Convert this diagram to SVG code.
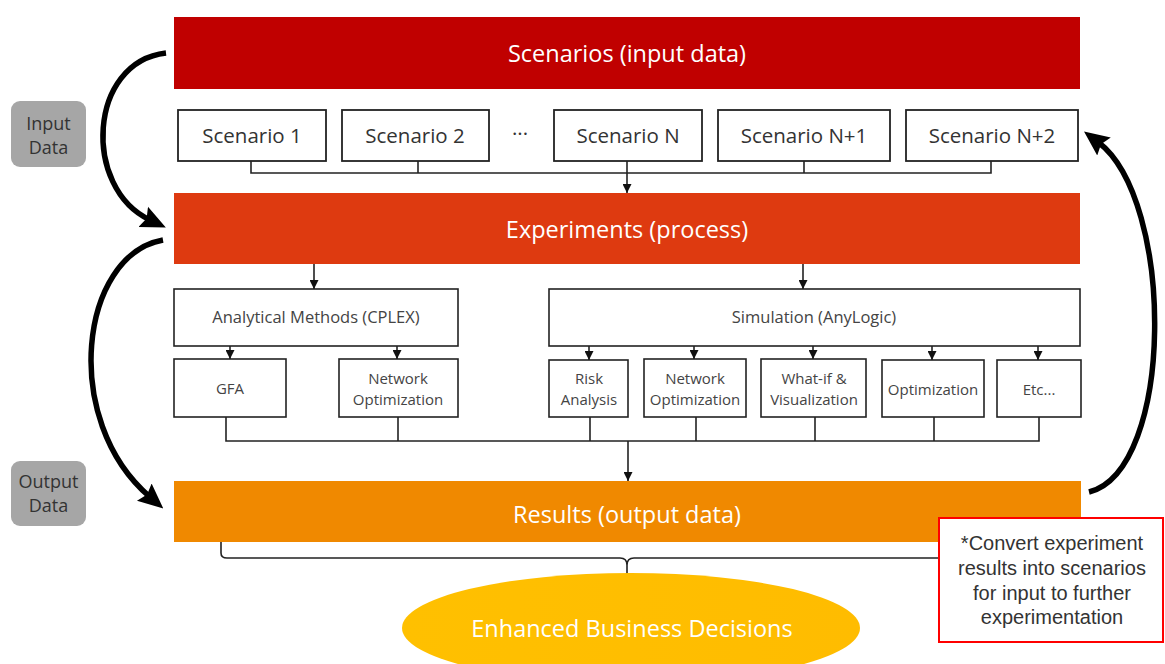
<svg xmlns="http://www.w3.org/2000/svg" width="1165" height="664" viewBox="0 0 1165 664">
<style>
.bar-t{font-family:"Open Sans","Noto Sans",sans-serif;font-size:23.5px;fill:#fff;text-anchor:middle}
.sc{fill:#fff;stroke:#222;stroke-width:1.8}
.sc-t{font-family:"Open Sans","Noto Sans",sans-serif;font-size:20.5px;fill:#333;text-anchor:middle}
.bx{fill:#fff;stroke:#222;stroke-width:1.6}
.bx-t{font-family:"Open Sans","Noto Sans",sans-serif;font-size:16.5px;fill:#444;text-anchor:middle}
.sb-t{font-family:"Open Sans","Noto Sans",sans-serif;font-size:15px;fill:#444;text-anchor:middle}
.lbl{fill:#A6A6A6}
.lbl-t{font-family:"Open Sans","Noto Sans",sans-serif;font-size:18px;fill:#333;text-anchor:middle}
.ln{fill:none;stroke:#222;stroke-width:1.6}
.big{fill:none;stroke:#000;stroke-width:5.5}
.note-t{font-family:"Liberation Sans",Arial,sans-serif;font-size:20px;fill:#333;text-anchor:middle}
</style>
<defs>
<marker id="sa" markerUnits="userSpaceOnUse" markerWidth="9" markerHeight="9" viewBox="0 0 10 10" refX="10" refY="5" orient="auto">
<path d="M0,0 L10,5 L0,10 z" fill="#111"/>
</marker>
<marker id="ba" markerUnits="userSpaceOnUse" markerWidth="25" markerHeight="25" viewBox="0 0 10 10" refX="3" refY="5" orient="auto">
<path d="M0,0.5 L10,5 L0,9.5 L1.5,5 z" fill="#000"/>
</marker>
<linearGradient id="yel" x1="0" y1="0" x2="1" y2="0">
<stop offset="0" stop-color="#FFC000"/>
<stop offset="1" stop-color="#FFBC00"/>
</linearGradient>
</defs>

<g id="input-data-label">
<rect class="lbl" x="11" y="101" width="75" height="66" rx="9"/>
<text class="lbl-t" x="48.5" y="130">Input</text>
<text class="lbl-t" x="48.5" y="154">Data</text>
</g>
<g id="output-data-label">
<rect class="lbl" x="11" y="461" width="75" height="65" rx="9"/>
<text class="lbl-t" x="48.5" y="488">Output</text>
<text class="lbl-t" x="48.5" y="512">Data</text>
</g>

<g id="scenarios-bar">
<rect x="174" y="17" width="906" height="72" fill="#C00000"/>
<text class="bar-t" x="627" y="62">Scenarios (input data)</text>
</g>

<g id="scenario-1"><rect class="sc" x="178" y="110" width="148" height="51"/><text class="sc-t" x="252" y="143">Scenario 1</text></g>
<g id="scenario-2"><rect class="sc" x="342" y="110" width="147" height="51"/><text class="sc-t" x="415" y="143">Scenario 2</text></g>
<g id="ellipsis"><text class="sc-t" x="520" y="141">···</text></g>
<g id="scenario-n"><rect class="sc" x="554" y="110" width="148" height="51"/><text class="sc-t" x="628" y="143">Scenario N</text></g>
<g id="scenario-n1"><rect class="sc" x="718" y="110" width="172" height="51"/><text class="sc-t" x="804" y="143">Scenario N+1</text></g>
<g id="scenario-n2"><rect class="sc" x="906" y="110" width="172" height="51"/><text class="sc-t" x="992" y="143">Scenario N+2</text></g>

<g id="experiments-bar">
<rect x="174" y="193" width="906" height="71" fill="#DE3A10"/>
<text class="bar-t" x="627" y="238">Experiments (process)</text>
</g>

<g id="analytical"><rect class="bx" x="174" y="289" width="284" height="57"/><text class="bx-t" x="316" y="323">Analytical Methods (CPLEX)</text></g>
<g id="simulation"><rect class="bx" x="549" y="289" width="531" height="57"/><text class="bx-t" x="814" y="323">Simulation (AnyLogic)</text></g>

<g id="gfa"><rect class="bx" x="174" y="359" width="112" height="58"/><text class="sb-t" x="230" y="394">GFA</text></g>
<g id="net-opt-1"><rect class="bx" x="339" y="359" width="119" height="58"/><text class="sb-t" x="398" y="384">Network</text><text class="sb-t" x="398" y="405">Optimization</text></g>
<g id="risk"><rect class="bx" x="549" y="360" width="79" height="57"/><text class="sb-t" x="589" y="384">Risk</text><text class="sb-t" x="589" y="405">Analysis</text></g>
<g id="net-opt-2"><rect class="bx" x="644" y="359" width="102" height="58"/><text class="sb-t" x="695" y="384">Network</text><text class="sb-t" x="695" y="405">Optimization</text></g>
<g id="what-if"><rect class="bx" x="761" y="359" width="105" height="58"/><text class="sb-t" x="814" y="384">What-if &amp;</text><text class="sb-t" x="814" y="405">Visualization</text></g>
<g id="optimization"><rect class="bx" x="882" y="360" width="102" height="57"/><text class="sb-t" x="933" y="395">Optimization</text></g>
<g id="etc"><rect class="bx" x="997" y="360" width="84" height="57"/><text class="sb-t" x="1039" y="395">Etc...</text></g>

<g id="results-bar">
<rect x="174" y="481" width="907" height="61" fill="#F08900"/>
<text class="bar-t" x="627" y="523">Results (output data)</text>
</g>

<g id="connectors">
<path class="ln" d="M251,161 V173 H991 V161 M418,161 V173 M804,161 V173"/>
<path class="ln" d="M627,161 V193" marker-end="url(#sa)"/>
<path class="ln" d="M314,264 V289" marker-end="url(#sa)"/>
<path class="ln" d="M803,264 V289" marker-end="url(#sa)"/>
<path class="ln" d="M230,346 V359" marker-end="url(#sa)"/>
<path class="ln" d="M397,346 V359" marker-end="url(#sa)"/>
<path class="ln" d="M589,346 V360" marker-end="url(#sa)"/>
<path class="ln" d="M694,346 V359" marker-end="url(#sa)"/>
<path class="ln" d="M813,346 V359" marker-end="url(#sa)"/>
<path class="ln" d="M932,346 V360" marker-end="url(#sa)"/>
<path class="ln" d="M1038,346 V360" marker-end="url(#sa)"/>
<path class="ln" d="M226,417 V441 H1039 V417 M398,417 V441 M590,417 V441 M696,417 V441 M815,417 V441 M934,417 V441"/>
<path class="ln" d="M628,441 V481" marker-end="url(#sa)"/>
<path class="ln" d="M221,542 V553 Q221,558 227,558 H620 Q627,558 627,565 V574 M627,565 Q627,558 634,558 H1030"/>
<path class="big" d="M166,53 C88,62 82,188 150,220" marker-end="url(#ba)"/>
<path class="big" d="M163,240 C80,255 60,420 150,497" marker-end="url(#ba)"/>
<path class="big" d="M1089,492 C1175,470 1175,200 1098,142" marker-end="url(#ba)"/>
</g>

<g id="decisions">
<ellipse cx="631" cy="628" rx="229" ry="55" fill="url(#yel)"/>
<text class="bar-t" x="632" y="637">Enhanced Business Decisions</text>
</g>

<g id="note">
<rect x="939" y="518" width="224" height="124" fill="#fff" stroke="#FF0000" stroke-width="2"/>
<text class="note-t" x="1052" y="550">*Convert experiment</text>
<text class="note-t" x="1052" y="575">results into scenarios</text>
<text class="note-t" x="1052" y="600">for input to further</text>
<text class="note-t" x="1052" y="624">experimentation</text>
</g>
</svg>
